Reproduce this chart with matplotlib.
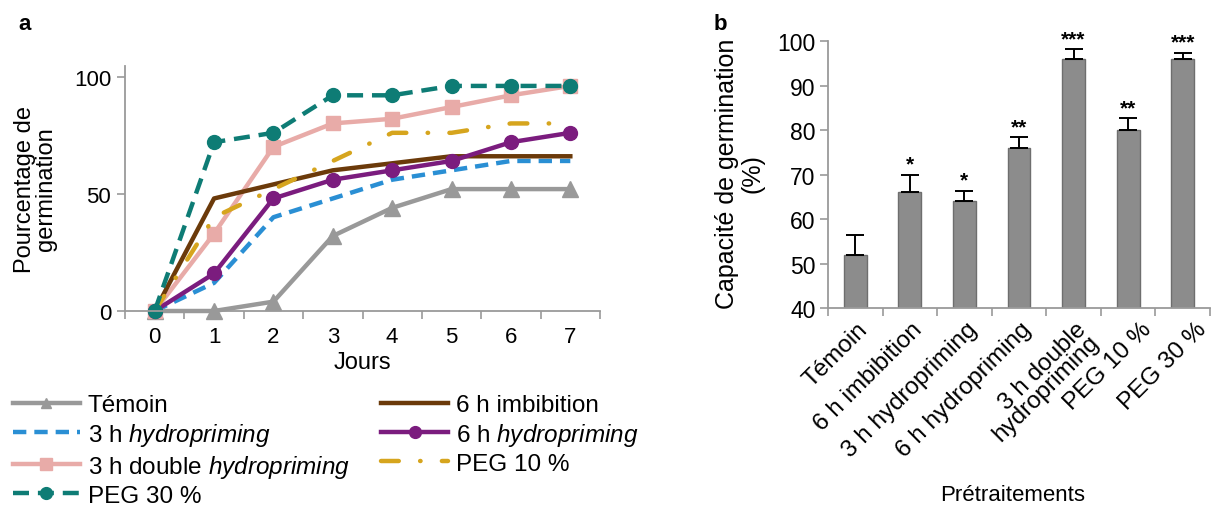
import matplotlib
matplotlib.use('Agg')
import matplotlib.pyplot as plt
from matplotlib.lines import Line2D
from matplotlib.ticker import FixedLocator

plt.rcParams['font.family'] = ['Liberation Sans', 'DejaVu Sans']
plt.rcParams['mathtext.fontset'] = 'custom'
plt.rcParams['mathtext.rm'] = 'Liberation Sans'
plt.rcParams['mathtext.it'] = 'Liberation Sans:italic'

# ---- data: panel a ----
days = [0, 1, 2, 3, 4, 5, 6, 7]
temoin = [0, 0, 4, 32, 44, 52, 52, 52]
hydro3 = [0, 12, 40, 48, 56, 60, 64, 64]
double3 = [0, 33, 70, 80, 82, 87, 92, 96]
imbib6 = [0, 48, 54, 60, 63, 66, 66, 66]
hydro6 = [0, 16, 48, 56, 60, 64, 72, 76]
peg10 = [0, 40, 52, 64, 76, 76, 80, 80]
peg30 = [0, 72, 76, 92, 92, 96, 96, 96]

# ---- data: panel b ----
treatments = ['Témoin', '6 h imbibition', '3 h hydropriming', '6 h hydropriming',
              '3 h double\nhydropriming', 'PEG 10 %', 'PEG 30 %']
capacity = [52, 66, 64, 76, 96, 80, 96]
errors = [4.4, 4.0, 2.4, 2.4, 2.3, 2.8, 1.5]
signif = ['', '*', '*', '**', '***', '**', '***']

W, H = 1211, 510
fig = plt.figure(figsize=(W / 100, H / 100), dpi=100)
axis_col = '#9a9a9a'

# styles
lw = 3.2
st = {
    'tem': dict(color='#999999', lw=lw, marker='^'),
    'h3': dict(color='#2a8fd4', lw=lw, dashes=(3.0, 1.8)),
    'd3': dict(color='#e8aba8', lw=lw, marker='s'),
    'i6': dict(color='#6b3a0a', lw=lw),
    'h6': dict(color='#7b1c7e', lw=lw, marker='o'),
    'p10': dict(color='#d6a51e', lw=lw, dashes=(4.0, 4.8, 0.1, 4.8), dash_capstyle='round'),
    'p30': dict(color='#0e7c75', lw=lw, dashes=(3.6, 2.0), marker='o'),
}
ms_plot = {'tem': 11, 'd3': 10, 'h6': 10, 'p30': 10}
ms_leg = {'tem': 7.5, 'd3': 8, 'h6': 8.5, 'p30': 8.5}

# ---------------- panel a ----------------
ax = fig.add_axes([125 / W, 1 - 312 / H, (600 - 125) / W, (312 - 67) / H])
series = [('tem', temoin), ('h3', hydro3), ('d3', double3), ('i6', imbib6),
          ('h6', hydro6), ('p10', peg10), ('p30', peg30)]
for key, vals in series:
    ax.plot(days, vals, clip_on=False, ms=ms_plot.get(key, 0), **st[key])

ax.set_xlim(-0.5, 7.5)
ax.set_ylim(0, 104.5)
ax.set_yticks([0, 50, 100])
ax.set_xticks(days)
ax.xaxis.set_minor_locator(FixedLocator([-0.5 + i for i in range(9)]))
ax.tick_params(axis='x', which='major', length=0, labelsize=16, pad=11)
ax.tick_params(axis='x', which='minor', length=6, color=axis_col, width=1.2)
ax.tick_params(axis='y', length=6, color=axis_col, width=1.2, labelsize=16, pad=4)
for s in ['top', 'right']:
    ax.spines[s].set_visible(False)
for s in ['left', 'bottom']:
    ax.spines[s].set_color(axis_col)
    ax.spines[s].set_linewidth(1.3)
ax.set_xlabel('Jours', fontsize=17, labelpad=3)
ax.set_ylabel('Pourcentage de\ngermination', fontsize=17, labelpad=12, linespacing=0.95)

fig.text(18 / W, 1 - 25 / H, 'a', fontsize=16, fontweight='bold', va='center', ha='left')

labels = {'tem': 'Témoin', 'h3': '3 h $\\mathit{hydropriming}$',
          'd3': '3 h double $\\mathit{hydropriming}$', 'p30': 'PEG 30 %',
          'i6': '6 h imbibition', 'h6': '6 h $\\mathit{hydropriming}$', 'p10': 'PEG 10 %'}
order = ['tem', 'h3', 'd3', 'p30', 'i6', 'h6', 'p10']
handles = [Line2D([], [], ms=ms_leg.get(k, 0), **st[k]) for k in order]
fig.legend(handles=handles, labels=[labels[k] for k in order], ncol=2,
           loc='upper left', bbox_to_anchor=(13 / W, 1 - 395 / H), frameon=False,
           fontsize=17.5, handlelength=2.75, handletextpad=0.33, labelspacing=0.2,
           columnspacing=1.3, borderaxespad=0, borderpad=0)

# ---------------- panel b ----------------
bx = fig.add_axes([828 / W, 1 - 309 / H, (1210 - 828) / W, (309 - 38) / H])
xs = list(range(len(treatments)))
bx.bar(xs, [c - 40 for c in capacity], bottom=40, width=0.42, color='#8c8c8c',
       edgecolor='#6e6e6e', linewidth=1.0, zorder=2)
bx.errorbar(xs, capacity, yerr=[[0] * len(errors), errors], fmt='none', ecolor='black',
            elinewidth=1.4, capsize=6.5, capthick=1.4, zorder=3)
for x, c, e, s in zip(xs, capacity, errors, signif):
    if s:
        bx.text(x, c + e + 0.2, s, ha='center', va='bottom', fontsize=15, fontweight='bold')

bx.set_xlim(-0.5, len(treatments) - 0.5)
bx.set_ylim(40, 101)
bx.set_yticks(range(40, 101, 10))
bx.set_xticks(xs)
bx.set_xticklabels([''] * len(xs))
# rotated category labels (the PEG labels sit a little further right in the reference)
for x, name in zip(xs, treatments):
    dx = 9 if name.startswith('PEG') else 1
    bx.annotate(name, xy=(x, 0), xycoords=('data', 'axes fraction'),
                xytext=(dx, -7), textcoords='offset points', rotation=45,
                ha='right', va='top', rotation_mode='anchor', fontsize=17.5,
                linespacing=0.75, annotation_clip=False)
bx.xaxis.set_minor_locator(FixedLocator([-0.5 + i for i in range(len(treatments) + 1)]))
bx.tick_params(axis='x', which='major', length=0, pad=8)
bx.tick_params(axis='x', which='minor', length=6, color=axis_col, width=1.2)
bx.tick_params(axis='y', length=6, color=axis_col, width=1.2, labelsize=16.5, pad=3)
for s in ['top', 'right']:
    bx.spines[s].set_visible(False)
for s in ['left', 'bottom']:
    bx.spines[s].set_color(axis_col)
    bx.spines[s].set_linewidth(1.3)
bx.spines['left'].set_bounds(40, 100)
bx.set_ylabel('Capacité de germination\n(%)', fontsize=18, labelpad=9, linespacing=1.1)
fig.text(1013 / W, 1 - 496 / H, 'Prétraitements', fontsize=16, ha='center', va='center')
fig.text(714 / W, 1 - 25 / H, 'b', fontsize=16, fontweight='bold', va='center', ha='left')

fig.savefig('out.png', dpi=100)
